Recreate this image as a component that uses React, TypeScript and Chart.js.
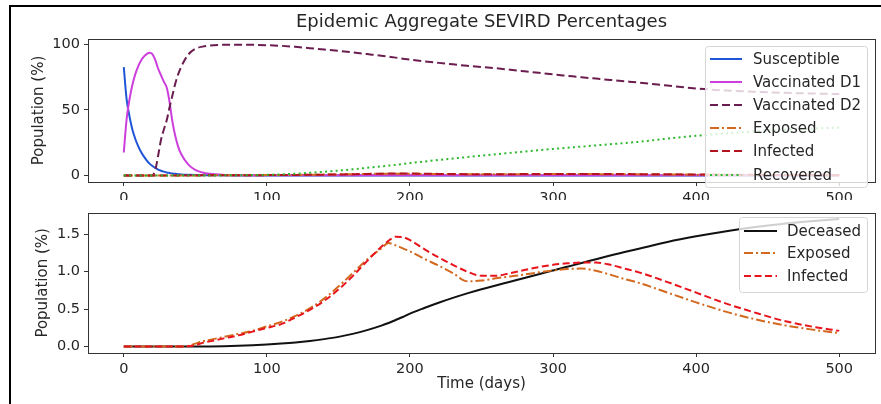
import React, { useEffect, useRef } from "react";
import { Chart, registerables } from "chart.js";
Chart.register(...registerables);

// ---------- data ----------
const days = [
  0, 2, 4, 6, 8, 10, 12, 14, 16, 18, 20, 22, 24, 26, 28, 30, 32, 34, 36, 38, 40,
  45, 50, 55, 60, 70, 80, 90, 100, 110, 120, 130, 140, 150, 160, 170, 180,
  185, 190, 195, 200, 210, 220, 230, 240, 250, 260, 270, 280, 290, 300, 310,
  320, 330, 340, 350, 360, 380, 400, 420, 440, 460, 480, 500,
];

const susceptible = [
  82.5, 58, 45, 35, 28, 22.5, 18, 14.5, 11.5, 9, 7.2, 5.7, 4.5, 3.6, 2.9, 2.3, 1.9, 1.5, 1.2, 1.0, 0.8,
  0.5, 0.3, 0.2, 0.12, 0.05, 0.02, 0.01,
  0, 0, 0, 0, 0, 0, 0, 0, 0, 0, 0, 0, 0, 0, 0, 0, 0, 0, 0, 0, 0, 0, 0, 0, 0, 0, 0, 0, 0, 0, 0, 0, 0, 0, 0, 0,
];

const vaccinatedD1 = [
  17.5, 43, 58, 69, 77, 83, 87.5, 90.5, 92.5, 93.5, 92.5, 88, 81.5, 76.5, 71.5, 67, 56, 41, 30, 22, 16.5,
  8.5, 4.2, 2.2, 1.2, 0.4, 0.2, 0.15,
  0.1, 0.1, 0.1, 0.1, 0.1, 0.1, 0.1, 0.1, 0.1, 0.1, 0.1, 0.1, 0.1, 0.1, 0.1, 0.1, 0.1, 0.1, 0.1, 0.1,
  0.1, 0.1, 0.1, 0.1, 0.1, 0.1, 0.1, 0.1, 0.1, 0.1, 0.1, 0.1, 0.1, 0.1, 0.1, 0.1,
];

const vaccinatedD2 = [
  0, 0, 0, 0, 0, 0, 0, 0, 0, 0, 0,
  4, 15, 27, 35, 42, 52, 61, 70, 77, 82.5,
  92, 96.5, 98.2, 99,
  99.6, 99.7, 99.6,
  99.3, 98.8, 98, 97, 96, 95, 93.8, 92.5, 91.2,
  90.5, 89.8, 89,
  88.3, 87, 85.8, 84.7, 83.6, 82.6, 81.7, 80.6, 79.4, 78.2, 77, 75.9, 74.8, 73.8, 72.8, 71.8, 70.8,
  68.5, 66.3, 64.8, 63.8, 63, 62.5, 62,
];

const exposed = [
  0, 0, 0, 0, 0, 0, 0, 0, 0, 0, 0, 0, 0, 0, 0, 0, 0, 0, 0, 0, 0,
  0.01, 0.04, 0.07, 0.09,
  0.13, 0.17, 0.21, 0.27, 0.33, 0.41, 0.51, 0.64, 0.8, 0.98, 1.16, 1.31,
  1.38, 1.35, 1.31,
  1.27, 1.17, 1.08, 0.98, 0.87, 0.88, 0.91, 0.935, 0.96, 0.99, 1.015, 1.035, 1.04, 1.01, 0.96, 0.9, 0.85,
  0.72, 0.59, 0.47, 0.37, 0.29, 0.23, 0.18,
];

const infected = [
  0, 0, 0, 0, 0, 0, 0, 0, 0, 0, 0, 0, 0, 0, 0, 0, 0, 0, 0, 0, 0,
  0.005, 0.02, 0.05, 0.07,
  0.11, 0.15, 0.2, 0.25, 0.3, 0.39, 0.49, 0.61, 0.76, 0.94, 1.14, 1.33,
  1.41, 1.465, 1.46,
  1.42, 1.3, 1.19, 1.09, 1.0, 0.945, 0.945, 0.98, 1.02, 1.06, 1.09, 1.11, 1.12, 1.12, 1.09, 1.04, 0.99,
  0.86, 0.72, 0.58, 0.46, 0.35, 0.27, 0.21,
];

const recovered = [
  0, 0, 0, 0, 0, 0, 0, 0, 0, 0, 0, 0, 0, 0, 0, 0, 0, 0, 0, 0, 0, 0, 0, 0, 0,
  0.05, 0.15, 0.3, 0.5, 0.8, 1.3, 2.0, 2.8, 3.7, 4.7, 5.8, 6.9,
  7.5, 8.1, 8.7,
  9.4, 10.6, 11.8, 12.9, 14.0, 15.1, 16.2, 17.2, 18.2, 19.2, 20.2, 21.1, 22.0, 22.9, 23.8, 24.7, 25.6,
  28.1, 30.2, 32, 33.5, 34.7, 35.7, 36.5,
];

const deceased = [
  0, 0, 0, 0, 0, 0, 0, 0, 0, 0, 0, 0, 0, 0, 0, 0, 0, 0, 0, 0, 0, 0, 0,
  0.001, 0.002,
  0.005, 0.01, 0.018, 0.028, 0.04, 0.055, 0.075, 0.1, 0.13, 0.17, 0.22, 0.28,
  0.315, 0.355, 0.395,
  0.44, 0.515, 0.585, 0.65, 0.71, 0.765, 0.815, 0.865, 0.915, 0.965, 1.015, 1.065, 1.115, 1.165, 1.215, 1.26, 1.305,
  1.395, 1.47, 1.535, 1.59, 1.635, 1.67, 1.7,
];

const xTicks = [0, 100, 200, 300, 400, 500];
const topYTicks = [0, 50, 100];
const bottomYTicks = [0, 0.5, 1.0, 1.5];

const chartTitle = "Epidemic Aggregate SEVIRD Percentages";
const yTitle = "Population (%)";
const xTitle = "Time (days)";

// ---------- styling ----------
const FONT = "'DejaVu Sans', 'Liberation Sans', sans-serif";
const TEXT = "#262626";
const SPINE = "#333333";

function pts(vals: number[]) {
  return days.map((d, i) => ({ x: d, y: vals[i] }));
}

function ds(label: string, vals: number[], color: string, dash: number[], order: number) {
  return {
    label,
    data: pts(vals),
    borderColor: color,
    backgroundColor: color,
    borderWidth: 2,
    borderDash: dash,
    borderCapStyle: "butt" as const,
    pointRadius: 0,
    fill: false,
    order,
    cubicInterpolationMode: "monotone" as const,
  };
}

const framePlugin = {
  id: "frame",
  afterDatasetsDraw(chart: any) {
    const { ctx, chartArea: a } = chart;
    ctx.save();
    ctx.strokeStyle = SPINE;
    ctx.lineWidth = 1;
    ctx.strokeRect(Math.round(a.left) + 0.5, Math.round(a.top) + 0.5, Math.round(a.right - a.left), Math.round(a.bottom - a.top));
    ctx.restore();
  },
};

const legendPlugin = {
  id: "boxLegend",
  afterDraw(chart: any, _args: any, opts: any) {
    if (!opts || !opts.box) return;
    const { ctx } = chart;
    const { box, handle, textX, rows } = opts;
    ctx.save();
    ctx.beginPath();
    const w = box.x1 - box.x0;
    const h = box.y1 - box.y0;
    ctx.roundRect(box.x0 + 0.5, box.y0 + 0.5, w, h, 3);
    ctx.fillStyle = "rgba(255,255,255,0.8)";
    ctx.fill();
    ctx.strokeStyle = "#d6d6d6";
    ctx.lineWidth = 1;
    ctx.stroke();
    ctx.font = `15px ${FONT}`;
    ctx.textBaseline = "middle";
    ctx.textAlign = "left";
    chart.data.datasets.forEach((d: any, i: number) => {
      const y = rows[i];
      ctx.beginPath();
      ctx.strokeStyle = d.borderColor;
      ctx.lineWidth = 2;
      ctx.lineCap = "butt";
      ctx.setLineDash(d.borderDash || []);
      ctx.moveTo(handle[0], y);
      ctx.lineTo(handle[1], y);
      ctx.stroke();
      ctx.setLineDash([]);
      ctx.fillStyle = TEXT;
      ctx.fillText(d.label, textX, y + 1);
    });
    ctx.restore();
  },
};

const titlePlugin = {
  id: "topTitle",
  afterDraw(chart: any, _args: any, opts: any) {
    if (!opts || !opts.text) return;
    const { ctx, chartArea: a } = chart;
    ctx.save();
    ctx.font = `18px ${FONT}`;
    ctx.fillStyle = TEXT;
    ctx.textAlign = "center";
    ctx.textBaseline = "middle";
    ctx.fillText(opts.text, (a.left + a.right) / 2, opts.y);
    ctx.restore();
  },
};

function makeOptions(p: {
  padTop: number;
  xHeight: number;
  yMin: number;
  yMax: number;
  yTicks: number[];
  yFmt: (v: number) => string;
  yTitlePad: number;
  xTitle?: string;
  legend: any;
  title?: any;
}) {
  return {
    responsive: false,
    animation: false,
    devicePixelRatio: 1,
    layout: { padding: { top: p.padTop, right: 6, left: 0, bottom: 0 } },
    plugins: {
      legend: { display: false },
      tooltip: { enabled: false },
      title: { display: false },
      boxLegend: p.legend,
      topTitle: p.title || {},
    },
    scales: {
      x: {
        type: "linear",
        min: -25,
        max: 525,
        afterBuildTicks: (s: any) => {
          s.ticks = xTicks.map((v) => ({ value: v }));
        },
        afterFit: (s: any) => {
          s.height = p.xHeight;
        },
        ticks: {
          color: TEXT,
          font: { family: FONT, size: 14.5 },
          padding: 4,
          maxRotation: 0,
          autoSkip: false,
          callback: (v: any) => String(v),
        },
        grid: { drawOnChartArea: false, drawTicks: true, tickLength: 4, color: SPINE },
        border: { display: false },
        title: p.xTitle
          ? { display: true, text: p.xTitle, color: TEXT, font: { family: FONT, size: 15 }, padding: { top: 0, bottom: 11 } }
          : { display: false },
      },
      y: {
        type: "linear",
        min: p.yMin,
        max: p.yMax,
        afterBuildTicks: (s: any) => {
          s.ticks = p.yTicks.map((v) => ({ value: v }));
        },
        afterFit: (s: any) => {
          s.width = 88;
        },
        ticks: {
          color: TEXT,
          font: { family: FONT, size: 14.5 },
          padding: 4,
          autoSkip: false,
          callback: (v: any) => p.yFmt(Number(v)),
        },
        grid: { drawOnChartArea: false, drawTicks: true, tickLength: 4, color: SPINE },
        border: { display: false },
        title: { display: true, text: yTitle, color: TEXT, font: { family: FONT, size: 15 }, padding: { top: p.yTitlePad, bottom: 0 } },
      },
    },
  };
}

function TopChart() {
  const ref = useRef<HTMLCanvasElement | null>(null);
  useEffect(() => {
    if (!ref.current) return;
    const chart = new Chart(ref.current, {
      type: "line",
      data: {
        datasets: [
          ds("Susceptible", susceptible, "#1f55d6", [], 6),
          ds("Vaccinated D1", vaccinatedD1, "#cc3fdc", [], 5),
          ds("Vaccinated D2", vaccinatedD2, "#6b1d4f", [8, 4], 4),
          ds("Exposed", exposed, "#d2691e", [9, 3, 2, 3], 3),
          ds("Infected", infected, "#b3141e", [8, 4], 2),
          ds("Recovered", recovered, "#2db82d", [2, 3.3], 1),
        ],
      },
      options: makeOptions({
        padTop: 39,
        xHeight: 18,
        yMin: -5,
        yMax: 104,
        yTicks: topYTicks,
        yFmt: (v) => String(v),
        yTitlePad: 30,
        legend: {
          box: { x0: 705, y0: 46, x1: 867, y1: 187 },
          handle: [710, 742],
          textX: 753,
          rows: [59, 82, 105, 128, 151, 175],
        },
        title: { text: chartTitle, y: 22 },
      }) as any,
      plugins: [framePlugin, legendPlugin, titlePlugin],
    });
    return () => chart.destroy();
  }, []);
  return <canvas ref={ref} width={881} height={200} style={{ position: "absolute", left: 0, top: 0, display: "block" }} />;
}

function BottomChart() {
  const ref = useRef<HTMLCanvasElement | null>(null);
  useEffect(() => {
    if (!ref.current) return;
    const chart = new Chart(ref.current, {
      type: "line",
      data: {
        datasets: [
          ds("Deceased", deceased, "#111111", [], 3),
          ds("Exposed", exposed, "#d2691e", [9, 3, 2, 3], 2),
          ds("Infected", infected, "#e8141c", [7, 3.5], 1),
        ],
      },
      options: makeOptions({
        padTop: 10,
        xHeight: 51,
        yMin: -0.085,
        yMax: 1.785,
        yTicks: bottomYTicks,
        yFmt: (v) => v.toFixed(1),
        yTitlePad: 34,
        xTitle: xTitle,
        legend: {
          box: { x0: 739, y0: 17, x1: 867, y1: 92 },
          handle: [744, 777],
          textX: 787,
          rows: [31, 53, 76],
        },
      }) as any,
      plugins: [framePlugin, legendPlugin],
    });
    return () => chart.destroy();
  }, []);
  return <canvas ref={ref} width={881} height={204} style={{ position: "absolute", left: 0, top: 200, display: "block" }} />;
}

export default function App() {
  return (
    <div style={{ position: "fixed", left: 0, top: 0, width: 881, height: 404, background: "#fff", overflow: "hidden" }}>
      <TopChart />
      <BottomChart />
      <div
        style={{
          position: "absolute",
          left: 9,
          top: 5,
          right: 0,
          bottom: 0,
          borderTop: "2px solid #000",
          borderLeft: "2px solid #000",
          pointerEvents: "none",
        }}
      />
    </div>
  );
}
